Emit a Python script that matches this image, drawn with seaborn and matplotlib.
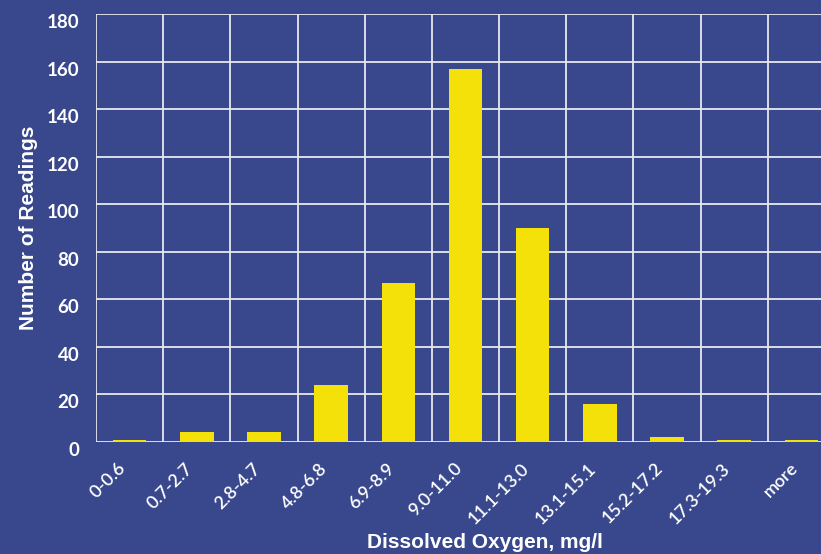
import matplotlib
matplotlib.use("Agg")
import matplotlib.pyplot as plt
import matplotlib.transforms as mtrans
import seaborn as sns
import pandas as pd

# bins of dissolved oxygen (mg/l) and counts
ranges = ["0-0.6", "0.7-2.7", "2.8-4.7", "4.8-6.8", "6.9-8.9", "9.0-11.0",
          "11.1-13.0", "13.1-15.1", "15.2-17.2", "17.3-19.3", "more"]
readings = [1, 4, 4, 24, 67, 157, 90, 16, 2, 1, 1]
y_ticks = [0, 20, 40, 60, 80, 100, 120, 140, 160, 180]

df = pd.DataFrame({"range": ranges, "readings": readings})

bg = "#39488c"
sns.set_style("white")
plt.rcParams["font.family"] = ["Lato", "DejaVu Sans"]

fig = plt.figure(figsize=(8.21, 5.54), dpi=100)
fig.patch.set_facecolor(bg)
# axes runs a bit past the right edge, as in the original
ax = fig.add_axes([96 / 821, 1 - 442 / 554, 739 / 821, 428 / 554])
ax.set_facecolor(bg)

sns.barplot(data=df, x="range", y="readings", color="#f5e10a",
            width=0.5, saturation=1, linewidth=0, ax=ax, zorder=3)

ax.set_ylim(0, 180)
ax.set_xlim(-0.5, len(ranges) - 0.5)
ax.set_yticks(y_ticks)
ax.set_yticklabels([str(t) for t in y_ticks], fontsize=13.5, fontweight="bold", color="white")
for lab in ax.get_yticklabels():
    lab.set_va("top")

# grid at category borders and y ticks
for b in range(len(ranges) + 1):
    ax.axvline(b - 0.5, color="#e8e8f0", lw=1.3, zorder=1)
for t in y_ticks:
    ax.axhline(t, color="#e8e8f0", lw=1.3, zorder=1)

ax.set_xticks(range(len(ranges)))
ax.set_xticklabels(ranges, rotation=45, ha="right", rotation_mode="anchor",
                   fontsize=13, color="white", fontweight="semibold")
ax.tick_params(axis="x", length=0, pad=13)
ax.tick_params(axis="y", length=0, pad=12)
shift = mtrans.ScaledTranslation(-12 / 100, 0, fig.dpi_scale_trans)
for lab in ax.get_xticklabels():
    lab.set_transform(lab.get_transform() + shift)

for s in ax.spines.values():
    s.set_visible(False)

ax.set_xlabel("")
ax.set_ylabel("")
fig.text(485 / 821, 1 - 543 / 554, "Dissolved Oxygen, mg/l", ha="center", va="center",
         fontsize=15, fontweight="bold", color="white", family=["Liberation Sans", "DejaVu Sans"])
fig.text(28 / 821, 1 - 228 / 554, "Number of Readings", ha="center", va="center",
         rotation=90, fontsize=15, fontweight="bold", color="white",
         family=["Liberation Sans", "DejaVu Sans"])

fig.savefig("out.png", dpi=100, facecolor=bg)
